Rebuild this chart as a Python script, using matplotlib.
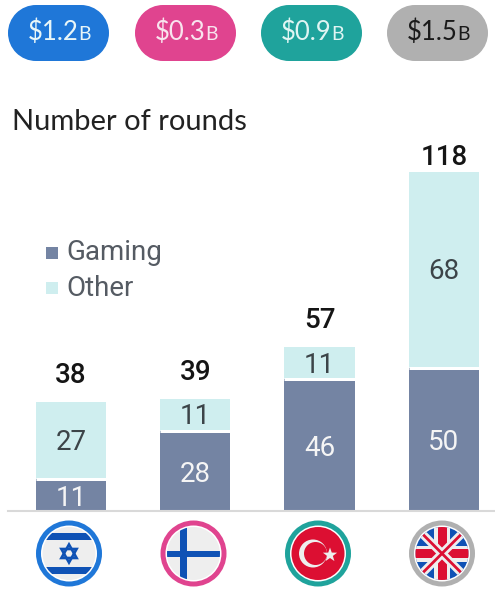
import matplotlib
matplotlib.use('Agg')
import matplotlib.pyplot as plt
from matplotlib.patches import Circle, Polygon, Rectangle
import numpy as np

countries = ['Israel', 'Finland', 'Turkey', 'UK']
gaming = [11, 28, 46, 50]
other = [27, 11, 11, 68]
totals = [38, 39, 57, 118]
amounts = ['$1.2', '$0.3', '$0.9', '$1.5']
series_names = ['Gaming', 'Other']

pill_colors = ['#1f77d8', '#e0448f', '#1fa39c', '#b0b0b0']
pill_text = ['#e8f6f8', '#f8e4ee', '#e0f5f3', '#1a1a1a']
pill_left = [8, 135, 261, 387]
flag_x = [69, 193.5, 318, 442]
total_gap = [9.3, 9.3, 9.3, 5.2]

GAMING = '#7484a3'
OTHER = '#cfeeef'
HEAD = 'Lato'
NUM = 'Roboto'

fig = plt.figure(figsize=(4.95, 5.92), dpi=100)

# bars
ax = fig.add_axes([8 / 495, (592 - 511) / 592, 487 / 495, 371 / 592])
pos = np.arange(4)
ax.bar(pos, gaming, width=0.565, color=GAMING, linewidth=0)
ax.bar(pos, other, bottom=gaming, width=0.565, color=OTHER, linewidth=0)
# white line between the two parts
for i in pos:
    ax.plot([i - 0.2825, i + 0.2825], [gaming[i], gaming[i]], color='white', lw=2.16, solid_capstyle='butt')
ax.set_xlim(-63 / 124.3, 424 / 124.3)
ax.set_ylim(0, 371 / 2.87)
for s in ['top', 'left', 'right']:
    ax.spines[s].set_visible(False)
ax.spines['bottom'].set_color('#d9d9d9')
ax.spines['bottom'].set_linewidth(1.5)
ax.set_xticks([])
ax.set_yticks([])
ax.patch.set_alpha(0)
for i in pos:
    ax.text(i, gaming[i] / 2 - 1.2, str(gaming[i]), ha='center', va='center', fontsize=20,
            color='#f5f5f5', family=NUM)
    ax.text(i, gaming[i] + other[i] / 2 - 0.7, str(other[i]), ha='center', va='center', fontsize=20,
            color='#3c4448', family=NUM)
    ax.text(i, totals[i] + total_gap[i], str(totals[i]), ha='center', va='center', fontsize=20,
            color='#151515', family=NUM, weight='medium')

# overlay in pixels
ov = fig.add_axes([0, 0, 1, 1])
ov.set_xlim(0, 495)
ov.set_ylim(592, 0)
ov.axis('off')
ov.patch.set_alpha(0)

# pills
for i in range(4):
    x0 = pill_left[i]
    ov.add_patch(Circle((x0 + 28, 33), 28, fc=pill_colors[i], ec='none'))
    ov.add_patch(Circle((x0 + 73, 33), 28, fc=pill_colors[i], ec='none'))
    ov.add_patch(Rectangle((x0 + 28, 5), 45, 56, fc=pill_colors[i], ec='none'))
    ov.text(x0 + 20, 32.5, amounts[i], ha='left', va='center', fontsize=18.5, color=pill_text[i], family=HEAD)
    ov.text(x0 + 70, 34, 'B', ha='left', va='center', fontsize=14, color=pill_text[i], family=HEAD)

ov.text(12, 122, 'Number of rounds', ha='left', va='center', fontsize=21, color='#222222', family=HEAD)

# legend
ov.add_patch(Rectangle((46, 247), 12, 12, fc=GAMING, ec='none'))
ov.add_patch(Rectangle((46, 282), 12, 12, fc=OTHER, ec='none'))
ov.text(66, 253, series_names[0], ha='left', va='center', fontsize=20, color='#555b63', family=NUM)
ov.text(66, 288, series_names[1], ha='left', va='center', fontsize=20, color='#555b63', family=NUM)


def flag_base(cx, ring, bg, cy=553.5):
    ov.add_patch(Circle((cx, cy), 33, fc=ring, ec='none'))
    ov.add_patch(Circle((cx, cy), 28, fc='white', ec='none'))
    clip = Circle((cx, cy), 26.5, fc=bg, ec='none')
    ov.add_patch(clip)
    return clip, cy


def clipped(patch, clip):
    ov.add_patch(patch)
    patch.set_clip_path(clip)
    return patch


BLUE = '#0f52b5'
LIGHT = '#eeeeee'
RED = '#dc0f32'

# Israel
cx = flag_x[0]
clip, cy = flag_base(cx, pill_colors[0], LIGHT)
clipped(Rectangle((cx - 30, cy - 21), 60, 7, fc=BLUE, ec='none'), clip)
clipped(Rectangle((cx - 30, cy + 13), 60, 7, fc=BLUE, ec='none'), clip)
for sgn in (1, -1):
    tri = [(cx, cy - sgn * 9), (cx - 7.6, cy + sgn * 4.5), (cx + 7.6, cy + sgn * 4.5)]
    ov.add_patch(Polygon(tri, closed=True, fc='none', ec=BLUE, lw=1.9))

# Finland
cx = flag_x[1]
clip, cy = flag_base(cx, pill_colors[1], LIGHT)
clipped(Rectangle((cx - 30, cy - 3), 60, 6, fc=BLUE, ec='none'), clip)
clipped(Rectangle((cx - 13.5, cy - 30), 7, 60, fc=BLUE, ec='none'), clip)

# Turkey
cx = flag_x[2]
clip, cy = flag_base(cx, pill_colors[2], RED)
ov.add_patch(Circle((cx - 5, cy), 14, fc=LIGHT, ec='none'))
ov.add_patch(Circle((cx - 2.5, cy), 11.5, fc=RED, ec='none'))
ang = np.deg2rad(np.arange(0, 360, 36) - 90)
rad = np.where(np.arange(10) % 2 == 0, 7.5, 3)
ov.add_patch(Polygon(np.c_[cx + 12 + rad * np.cos(ang), cy + 1.5 + rad * np.sin(ang)], closed=True, fc=LIGHT, ec='none'))

# UK
cx = flag_x[3]
clip, cy = flag_base(cx, pill_colors[3], BLUE)
for a, b in [((-30, -30), (30, 30)), ((-30, 30), (30, -30))]:
    l, = ov.plot([cx + a[0], cx + b[0]], [cy + a[1], cy + b[1]], color=LIGHT, lw=6, solid_capstyle='butt')
    l.set_clip_path(clip)
for a, b in [((-30, -30), (30, 30)), ((-30, 30), (30, -30))]:
    l, = ov.plot([cx + a[0], cx + b[0]], [cy + a[1], cy + b[1]], color=RED, lw=2, solid_capstyle='butt')
    l.set_clip_path(clip)
clipped(Rectangle((cx - 30, cy - 8), 60, 16, fc=LIGHT, ec='none'), clip)
clipped(Rectangle((cx - 8, cy - 30), 16, 60, fc=LIGHT, ec='none'), clip)
clipped(Rectangle((cx - 30, cy - 4.5), 60, 9, fc=RED, ec='none'), clip)
clipped(Rectangle((cx - 4.5, cy - 30), 9, 60, fc=RED, ec='none'), clip)

fig.savefig('out.png', dpi=100)
